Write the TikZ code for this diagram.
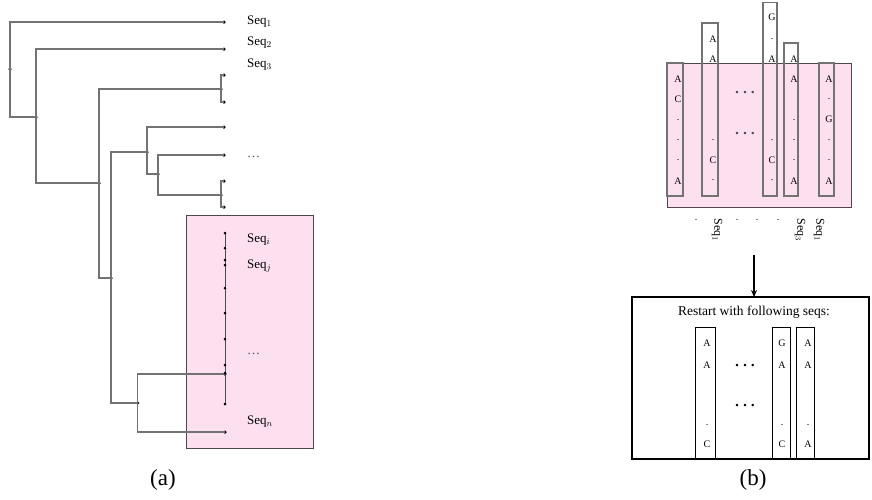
\documentclass[tikz,border=0pt]{standalone}
\usepackage{fontspec}
\setmainfont{Liberation Serif}
\usetikzlibrary{arrows.meta}
\definecolor{pinkbg}{RGB}{252,224,240}
\definecolor{treeline}{RGB}{115,115,115}
\definecolor{darkline}{RGB}{80,70,80}
\tikzset{
  x=1pt,y=-1pt,
  branch/.style={draw=treeline,line width=1.1pt},
  leaf/.style={circle,fill=black,inner sep=0pt,minimum size=3.5pt},
  lbl/.style={anchor=west,inner sep=0pt,font=\fontsize{13}{14}\selectfont},
  pinkbox/.style={fill=pinkbg,draw=darkline,line width=1pt},
  colbox/.style={draw=treeline,line width=1.1pt},
  seqlet/.style={inner sep=0pt,font=\fontsize{10}{11}\selectfont},
  bigdots/.style={inner sep=0pt,font=\fontsize{15}{16}\selectfont\bfseries},
  rotlbl/.style={inner sep=0pt,rotate=-90,font=\fontsize{12}{13}\selectfont},
  captxt/.style={inner sep=0pt,font=\fontsize{23}{24}\selectfont},
}
\begin{document}
\begin{tikzpicture}
\useasboundingbox (0,0) rectangle (872,499);
% ---------------- panel (a) ----------------
\path[pinkbox] (186,215) rectangle (313,448);
% leaves
\node[leaf] (L1) at (224,22) {};
\node[leaf] (L2) at (224,49) {};
\node[leaf] (L3a) at (224,75) {};
\node[leaf] (L3b) at (224,102) {};
\node[leaf] (B3) at (221,89) {};
\node[leaf] (L4) at (224,127) {};
\node[leaf] (L5) at (224,155) {};
\node[leaf] (L6a) at (224,181) {};
\node[leaf] (L6b) at (224,207) {};
\node[leaf] (B6) at (221,195) {};
\node[leaf] (Lp) at (225,374) {};
\node[leaf] (Ln) at (225,432) {};
% internal nodes
\node[leaf] (n1) at (10,69) {};
\node[leaf] (n2) at (36,117) {};
\node[leaf] (n3) at (99,183) {};
\node[leaf] (n4) at (111,278) {};
\node[leaf] (n5) at (147,152) {};
\node[leaf] (n7) at (158,174) {};
\node[leaf] (n6) at (137.7,403) {};
% branches
\draw[branch] (L1.center) -| (n1.center) |- (n2.center);
\draw[branch] (L2.center) -| (n2.center) |- (n3.center);
\draw[branch] (B3.center) -| (n3.center) |- (n4.center);
\draw[branch] (n5.center) -| (n4.center) |- (n6.center);
\draw[branch] (L4.center) -| (n5.center) |- (n7.center);
\draw[branch] (L5.center) -| (n7.center) |- (B6.center);
\draw[branch] (L3a.center) -| (B3.center) |- (L3b.center);
\draw[branch] (L6a.center) -| (B6.center) |- (L6b.center);
\draw[branch] (Lp.center) -| (n6.center) |- (Ln.center);
% inner chain in the pink box
\coordinate (ct) at (225,233);
\coordinate (cb) at (225,404);
\draw[draw=darkline,line width=0.9pt] (ct) -- (cb);
\foreach \yy in {233,248,260,265,288,313,339,365,373,404}
  \node[leaf,minimum size=3pt] at (225,\yy) {};
% labels
\node[lbl] (s1) at (247,22) {Seq$_1$};
\node[lbl] (s2) at (247,43) {Seq$_2$};
\node[lbl] (s3) at (247,65) {Seq$_3$};
\node[lbl,text=darkline] (sd) at (247,157) {\dots};
\node[lbl] (si) at (247,240) {Seq$_i$};
\node[lbl] (sj) at (247,266) {Seq$_j$};
\node[lbl,text=darkline] (sd2) at (247,354) {\dots};
\node[lbl] (sn) at (247,422) {Seq$_n$};
\node[captxt] (capa) at (163,480) {(a)};
% ---------------- panel (b) ----------------
\path[pinkbox] (667,63) rectangle (851,207);
\draw[colbox] (667,63) rectangle (683,196);
\draw[colbox] (702,23) rectangle (718,196);
\draw[colbox] (763,2.5) rectangle (777,196);
\draw[colbox] (784,43) rectangle (798,196);
\draw[colbox] (819,63) rectangle (834,196);
% column 1
\node[seqlet] at (678,79) {A};
\node[seqlet] at (678,99) {C};
\foreach \yy in {120,140,160} \node[seqlet] at (678,\yy) {.};
\node[seqlet] at (678,181) {A};
% column 2
\node[seqlet] at (713,39) {A};
\node[seqlet] at (713,59) {A};
\node[seqlet] at (713,140) {.};
\node[seqlet] at (713,160) {C};
\node[seqlet] at (713,180) {.};
% column 3
\node[seqlet] at (772,17) {G};
\node[seqlet] at (772,39) {.};
\node[seqlet] at (772,59) {A};
\node[seqlet] at (772,140) {.};
\node[seqlet] at (772,160) {C};
\node[seqlet] at (772,180) {.};
% column 4
\node[seqlet] at (794,59) {A};
\node[seqlet] at (794,79) {A};
\foreach \yy in {120,140,160} \node[seqlet] at (794,\yy) {.};
\node[seqlet] at (794,181) {A};
% column 5
\node[seqlet] at (829,79) {A};
\node[seqlet] at (829,99) {.};
\node[seqlet] at (829,119) {G};
\foreach \yy in {140,160} \node[seqlet] at (829,\yy) {.};
\node[seqlet] at (829,181) {A};
% ellipses
\node[bigdots,text=darkline] (e1) at (745,94) {·\hspace{3pt}·\hspace{3pt}·};
\node[bigdots,text=darkline] (e2) at (745,135) {·\hspace{3pt}·\hspace{3pt}·};
% rotated labels and dots below
\node[rotlbl] (r1) at (717,230) {Seq$_1$};
\node[rotlbl] (r2) at (800,230) {Seq$_3$};
\node[rotlbl] (r3) at (819,230) {Seq$_1$};
\foreach \xx in {696,737,757,778} \node[seqlet] at (\xx,220) {.};
% arrow
\coordinate (at) at (754,255);
\coordinate (ab) at (754,297);
\draw[line width=1.6pt,-{Stealth[length=7pt,width=6pt]}] (at) -- (ab);
% bottom box
\draw[line width=1.6pt] (632,297) rectangle (869,459);
\node[inner sep=0pt,font=\fontsize{13.5}{14}\selectfont] (rs) at (754,312) {Restart with following seqs:};
\draw[colbox,line width=0.9pt,draw=black] (695,327) rectangle (715,459);
\draw[colbox,line width=0.9pt,draw=black] (772,327) rectangle (790,459);
\draw[colbox,line width=0.9pt,draw=black] (796,327) rectangle (814,459);
\node[seqlet] at (707,343) {A};
\node[seqlet] at (707,365) {A};
\node[seqlet] at (707,425) {.};
\node[seqlet] at (707,444) {C};
\node[seqlet] at (782,343) {G};
\node[seqlet] at (782,365) {A};
\node[seqlet] at (782,425) {.};
\node[seqlet] at (782,444) {C};
\node[seqlet] at (808,343) {A};
\node[seqlet] at (808,365) {A};
\node[seqlet] at (808,425) {.};
\node[seqlet] at (808,444) {A};
\node[bigdots] (e3) at (745,367) {·\hspace{3pt}·\hspace{3pt}·};
\node[bigdots] (e4) at (745,407) {·\hspace{3pt}·\hspace{3pt}·};
\node[captxt] (capb) at (753,480) {(b)};
\end{tikzpicture}
\end{document}
